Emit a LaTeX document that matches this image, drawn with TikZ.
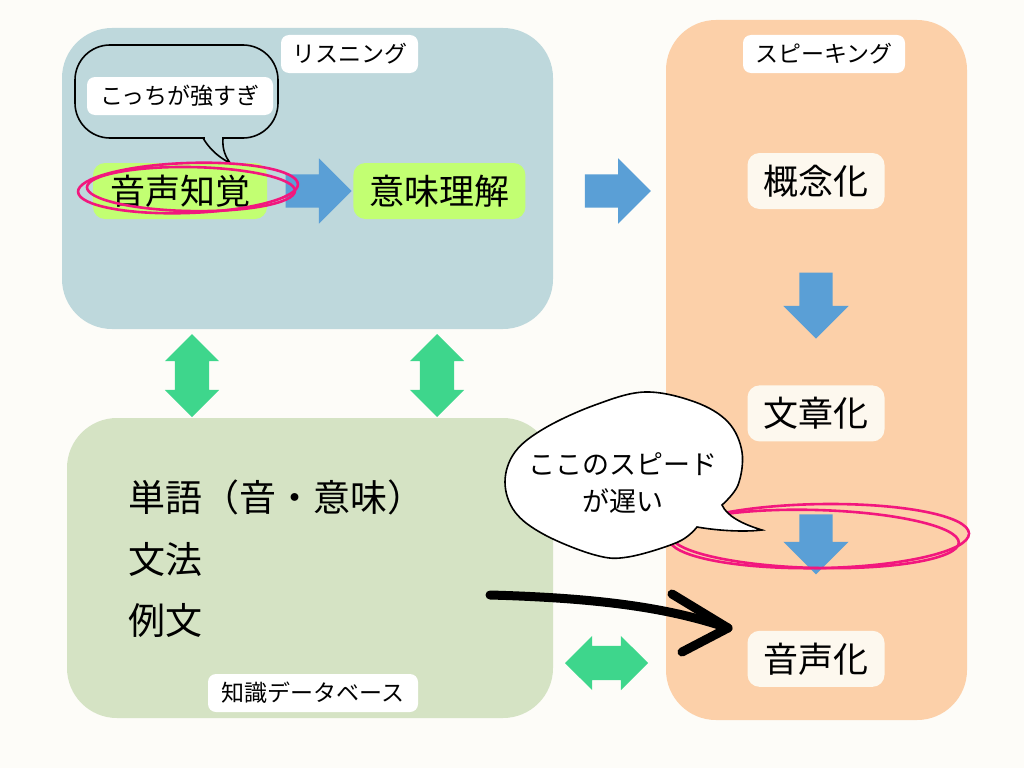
\documentclass[tikz,border=0pt]{standalone}
\usepackage{fontspec}
\setmainfont{Noto Sans CJK JP}
\usetikzlibrary{arrows.meta, positioning, shapes.arrows, calc}

\definecolor{paper}{HTML}{FDFCF8}
\definecolor{listenbg}{HTML}{BED8DC}
\definecolor{knowbg}{HTML}{D5E3C4}
\definecolor{speakbg}{HTML}{FCD0A9}
\definecolor{lime}{HTML}{C2FF72}
\definecolor{cream}{HTML}{FDF8EE}
\definecolor{flowblue}{HTML}{5A9FD6}
\definecolor{linkgreen}{HTML}{3ED68C}
\definecolor{marker}{HTML}{F2177E}

\begin{document}
\begin{tikzpicture}[
	x=1pt, y=-1pt,
	region/.style={rectangle, rounded corners=50pt, inner sep=0pt},
	tag/.style={rectangle, fill=white, rounded corners=8pt, minimum height=38pt, inner sep=0pt, font=\fontsize{23}{26}\selectfont},
	stage/.style={rectangle, rounded corners=12pt, minimum height=56pt, inner sep=0pt, font=\fontsize{35}{40}\selectfont},
	flow/.style={single arrow, fill=flowblue, inner xsep=0pt, inner ysep=16.5pt, single arrow head extend=16pt, minimum height=66pt},
	link/.style={double arrow, fill=linkgreen, inner xsep=0pt, inner ysep=17pt, double arrow head extend=10pt, minimum height=83pt},
	scribble/.style={draw=marker, line width=2.6pt},
	bubble/.style={draw=black, line width=1.6pt},
	hand/.style={line width=9pt, line cap=round, line join=round}
]
	\useasboundingbox (0,0) rectangle (1024,768);
	\fill[paper] (0,0) rectangle (1024,768);

	% Regions
	\node[region, fill=listenbg, minimum width=491pt, minimum height=301pt] (listen) at (307.5,178.5) {};
	\node[region, fill=knowbg, minimum width=486pt, minimum height=300pt] (know) at (310,568) {};
	\node[region, fill=speakbg, minimum width=301pt, minimum height=700pt] (speak) at (816.5,370) {};

	\node[tag, minimum width=137pt] (listentag) at (349.5,54) {リスニング};
	\node[tag, minimum width=162pt] (speaktag) at (824,54) {スピーキング};
	\node[tag, minimum width=210pt] (knowtag) at (313,693) {知識データベース};

	% Listening
	\node[bubble, rectangle, rounded corners=35pt, minimum width=203pt, minimum height=93pt] (note) at (176.5,91.5) {};
	\fill[listenbg] (204.5,135) rectangle (221.5,141);
	\draw[bubble] (203,138) .. controls (210,150) and (220,158) .. (230,163) .. controls (226,157) and (222,150) .. (223,138);
	\node[tag, minimum width=186pt] (toostrong) at (180,96) {こっちが強すぎ};

	\node[stage, fill=lime, minimum width=174pt] (percept) at (180,191) {音声知覚};
	\node[stage, fill=lime, minimum width=172pt, right=86pt of percept] (meaning) {意味理解};
	\node[flow] (f1) at ($(percept.east)!0.5!(meaning.west)$) {};

	\coordinate (ring1) at ($(percept)+(8,-3)$);
	\draw[scribble, rotate around={2:(ring1)}] (ring1) ellipse [x radius=110pt, y radius=25pt];
	\draw[scribble, rotate around={-1:(ring1)}] ($(ring1)+(3,1)$) ellipse [x radius=104pt, y radius=22pt];

	\coordinate (gap) at ($(listen.east)!0.5!(speak.west)$);
	\node[flow] (f2) at (gap |- f1) {};

	% Speaking
	\node[stage, fill=cream, minimum width=137pt] (concept) at (816,181) {概念化};
	\node[stage, fill=cream, minimum width=137pt, below=176pt of concept] (sentence) {文章化};
	\node[stage, fill=cream, minimum width=137pt, below=189pt of sentence] (voice) {音声化};
	\node[flow, rotate=-90] (f3) at ($(concept.south)!0.5!(sentence.north)$) {};
	\node[flow, rotate=-90, minimum height=60pt] (f4) at ($(sentence.south)!0.5!(voice.north)$) {};

	\coordinate (ring2) at ($(f4)+(3,0)$);
	\draw[scribble, rotate around={1:(ring2)}] (ring2) ellipse [x radius=150pt, y radius=32pt];
	\draw[scribble, rotate around={-1.5:(ring2)}] ($(ring2)+(-4,3)$) ellipse [x radius=144pt, y radius=29pt];

	% Knowledge
	\node[anchor=west, inner sep=0pt, font=\fontsize{37}{40}\selectfont] (words) at (128,497) {単語（音・意味）};
	\node[anchor=west, inner sep=0pt, font=\fontsize{37}{40}\selectfont] (grammar) at (128,559) {文法};
	\node[anchor=west, inner sep=0pt, font=\fontsize{37}{40}\selectfont] (examples) at (128,620) {例文};

	% Links
	\node[link, rotate=90] (l1) at (192,375.5) {};
	\node[link, rotate=90] (l2) at (437,375.5) {};
	\node[link] (l3) at (606.5,663) {};

	% Comment bubble
	\draw[bubble, fill=white] plot[smooth, tension=0.6] coordinates {(722,505) (738,485) (742,452) (728,422) (695,402) (645,392) (595,405) (545,428) (515,452) (505,482) (515,512) (545,535) (595,555) (628,557) (678,542) (697,527)}
		.. controls (720,531) and (745,532) .. (762,530) .. controls (742,524) and (727,516) .. (722,505) -- cycle;
	\node[align=center, inner sep=0pt, font=\fontsize{27}{37}\selectfont] (slow) at (623,483) {ここのスピード\\が遅い};

	% Hand-drawn arrow
	\coordinate (handstart) at (490,595);
	\coordinate (handtip) at (728,628);
	\draw[hand] (handstart) .. controls (600,598) and (670,608) .. (handtip);
	\draw[hand] (672,594) -- (handtip) -- (682,652);
\end{tikzpicture}
\end{document}
